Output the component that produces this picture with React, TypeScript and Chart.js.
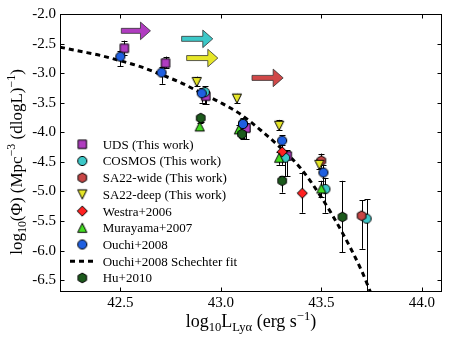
import React, { useEffect, useRef } from 'react';
import { Chart, registerables } from 'chart.js';

Chart.register(...registerables);

// ---------- axes ----------
const xRange = [42.2, 44.1];
const yRange = [-6.7, -2.0];
const xTickValues = [42.5, 43.0, 43.5, 44.0];
const yTickValues = [-6.5, -6.0, -5.5, -5.0, -4.5, -4.0, -3.5, -3.0, -2.5, -2.0];

// ---------- data ----------
const udsX = [42.52, 42.725, 42.925, 43.125, 43.33];
const udsY = [-2.58, -2.83, -3.39, -3.93, -4.40];
const udsLo = [-2.69, -2.92, -3.53, -4.12, -4.74];
const udsHi = [-2.45, -2.72, -3.30, -3.85, -4.30];

const cosmosX = [42.92, 43.11, 43.32, 43.52, 43.725];
const cosmosY = [-3.32, -3.85, -4.43, -4.96, -5.46];
const cosmosLo = [-3.53, -4.12, -4.74, -5.36, -7.5];
const cosmosHi = [-3.22, -3.76, -4.30, -4.78, -5.13];

const sa22wideX = [43.50, 43.70];
const sa22wideY = [-4.48, -5.41];
const sa22wideLo = [-4.60, -5.97];
const sa22wideHi = [-4.36, -5.15];

const sa22deepX = [42.88, 43.08, 43.29, 43.49];
const sa22deepY = [-3.15, -3.43, -3.89, -4.55];
const sa22deepLo = [-3.22, -3.50, -3.96, -4.62];
const sa22deepHi = [-3.06, -3.35, -3.79, -4.45];

const westraX = [43.305, 43.405];
const westraY = [-4.33, -5.03];
const westraLo = [-4.55, -5.36];
const westraHi = [-4.22, -4.68];

const murayamaX = [42.895, 43.09, 43.29, 43.50];
const murayamaY = [-3.90, -3.95, -4.43, -4.95];
const murayamaLo = [-3.96, -4.02, -4.55, -5.10];
const murayamaHi = [-3.84, -3.88, -4.33, -4.82];

const ouchiX = [42.50, 42.705, 42.905, 43.11, 43.305, 43.51];
const ouchiY = [-2.72, -2.99, -3.34, -3.86, -4.14, -4.68];
const ouchiLo = [-2.88, -3.18, -3.50, -4.00, -4.30, -5.00];
const ouchiHi = [-2.62, -2.90, -3.25, -3.78, -4.05, -4.55];

const huX = [42.90, 43.105, 43.305, 43.605];
const huY = [-3.76, -4.03, -4.82, -5.43];
const huLo = [-3.82, -4.10, -5.02, -6.03];
const huHi = [-3.70, -3.96, -4.74, -4.82];

const fitX = [42.2, 42.3, 42.4, 42.5, 42.6, 42.7, 42.8, 42.9, 43.0, 43.1, 43.2, 43.3, 43.4, 43.5, 43.6, 43.7, 43.75];
const fitY = [-2.56, -2.63, -2.70, -2.79, -2.89, -3.02, -3.16, -3.33, -3.50, -3.70, -3.97, -4.27, -4.62, -5.10, -5.67, -6.34, -6.75];

// lower-limit arrows
const arrowStartX = [42.505, 42.805, 42.83, 43.155];
const arrowEndX = [42.65, 42.96, 42.985, 43.31];
const arrowY = [-2.285, -2.42, -2.745, -3.08];
const arrowColors = ['#b03cc0', '#3cc8c8', '#e6e628', '#d04848'];

const FONT = '"Liberation Serif", "DejaVu Serif", serif';

type Shape = 'square' | 'circle' | 'hex' | 'triUp' | 'triDown' | 'diamond';

function makeMarker(shape: Shape, fill: string): HTMLCanvasElement {
  const s = 16;
  const c = document.createElement('canvas');
  c.width = s;
  c.height = s;
  const g = c.getContext('2d')!;
  const m = s / 2;
  g.beginPath();
  if (shape === 'square') {
    g.rect(m - 4.2, m - 4.2, 8.4, 8.4);
  } else if (shape === 'circle') {
    g.arc(m, m, 4.6, 0, Math.PI * 2);
  } else if (shape === 'hex') {
    const r = 4.9;
    for (let k = 0; k < 6; k++) {
      const a = -Math.PI / 2 + (k * Math.PI) / 3;
      const px = m + r * Math.cos(a);
      const py = m + r * Math.sin(a);
      if (k === 0) g.moveTo(px, py);
      else g.lineTo(px, py);
    }
  } else if (shape === 'triUp') {
    const h = 4.6;
    g.moveTo(m, m - h);
    g.lineTo(m + h, m + h);
    g.lineTo(m - h, m + h);
  } else if (shape === 'triDown') {
    const h = 4.6;
    g.moveTo(m, m + h);
    g.lineTo(m + h, m - h);
    g.lineTo(m - h, m - h);
  } else if (shape === 'diamond') {
    const r = 5.1;
    g.moveTo(m, m - r);
    g.lineTo(m + r, m);
    g.lineTo(m, m + r);
    g.lineTo(m - r, m);
  }
  g.closePath();
  g.fillStyle = fill;
  g.fill();
  g.lineWidth = 1;
  g.strokeStyle = '#000';
  g.stroke();
  return c;
}

const pts = (xs: number[], ys: number[]) => xs.map((x, i) => ({ x, y: ys[i] }));

type Seg = { t: string; k: 'n' | 'sub' | 'sup' };

function drawRich(ctx: CanvasRenderingContext2D, segs: Seg[], cx: number, y: number, size: number) {
  const fontFor = (k: string) => `${k === 'n' ? size : size * 0.7}px ${FONT}`;
  let w = 0;
  segs.forEach((s) => {
    ctx.font = fontFor(s.k);
    w += ctx.measureText(s.t).width;
  });
  let x = cx - w / 2;
  ctx.textAlign = 'left';
  ctx.textBaseline = 'alphabetic';
  segs.forEach((s) => {
    ctx.font = fontFor(s.k);
    const dy = s.k === 'sub' ? size * 0.22 : s.k === 'sup' ? -size * 0.4 : 0;
    ctx.fillText(s.t, x, y + dy);
    x += ctx.measureText(s.t).width;
  });
}

const xTitle: Seg[] = [
  { t: 'log', k: 'n' },
  { t: '10', k: 'sub' },
  { t: 'L', k: 'n' },
  { t: 'Lyα', k: 'sub' },
  { t: ' (erg s', k: 'n' },
  { t: '−1', k: 'sup' },
  { t: ')', k: 'n' },
];
const yTitle: Seg[] = [
  { t: 'log', k: 'n' },
  { t: '10', k: 'sub' },
  { t: '(Φ) (Mpc', k: 'n' },
  { t: '−3', k: 'sup' },
  { t: ' (dlogL)', k: 'n' },
  { t: '−1', k: 'sup' },
  { t: ')', k: 'n' },
];

export default function App() {
  const ref = useRef<HTMLCanvasElement | null>(null);

  useEffect(() => {
    if (!ref.current) return;

    const mk = {
      uds: makeMarker('square', '#b03cc0'),
      cosmos: makeMarker('circle', '#3cc8c8'),
      sa22wide: makeMarker('hex', '#c84646'),
      sa22deep: makeMarker('triDown', '#e6e628'),
      westra: makeMarker('diamond', '#ff2020'),
      murayama: makeMarker('triUp', '#44dd22'),
      ouchi: makeMarker('circle', '#1f5fe0'),
      hu: makeMarker('hex', '#1c5a1c'),
    };

    const series = [
      { label: 'UDS (This work)', x: udsX, y: udsY, lo: udsLo, hi: udsHi, m: mk.uds },
      { label: 'COSMOS (This work)', x: cosmosX, y: cosmosY, lo: cosmosLo, hi: cosmosHi, m: mk.cosmos },
      { label: 'SA22-wide (This work)', x: sa22wideX, y: sa22wideY, lo: sa22wideLo, hi: sa22wideHi, m: mk.sa22wide },
      { label: 'SA22-deep (This work)', x: sa22deepX, y: sa22deepY, lo: sa22deepLo, hi: sa22deepHi, m: mk.sa22deep },
      { label: 'Westra+2006', x: westraX, y: westraY, lo: westraLo, hi: westraHi, m: mk.westra },
      { label: 'Murayama+2007', x: murayamaX, y: murayamaY, lo: murayamaLo, hi: murayamaHi, m: mk.murayama },
      { label: 'Ouchi+2008', x: ouchiX, y: ouchiY, lo: ouchiLo, hi: ouchiHi, m: mk.ouchi },
      { label: 'Ouchi+2008 Schechter fit', x: fitX, y: fitY, lo: null, hi: null, m: null },
      { label: 'Hu+2010', x: huX, y: huY, lo: huLo, hi: huHi, m: mk.hu },
    ];

    const N = series.length;
    const datasets: any[] = series.map((s, i) => {
      if (!s.m) {
        return {
          label: s.label,
          data: pts(s.x, s.y),
          showLine: true,
          borderColor: '#000',
          borderWidth: 3,
          borderDash: [5, 4],
          pointRadius: 0,
          fill: false,
          cubicInterpolationMode: 'monotone',
          order: 100,
          legendKind: 'dash',
        };
      }
      return {
        label: s.label,
        data: pts(s.x, s.y),
        showLine: false,
        pointStyle: s.m,
        pointRadius: 5,
        pointHoverRadius: 5,
        errLo: s.lo,
        errHi: s.hi,
        order: N - i,
        legendMarker: s.m,
        clip: false,
      };
    });

    const errorBars = {
      id: 'errorBars',
      beforeDatasetsDraw(chart: any) {
        const { ctx, chartArea, scales } = chart;
        const xs = scales.x;
        const ys = scales.y;
        ctx.save();
        ctx.beginPath();
        ctx.rect(chartArea.left, chartArea.top, chartArea.right - chartArea.left, chartArea.bottom - chartArea.top);
        ctx.clip();
        ctx.strokeStyle = '#000';
        ctx.lineWidth = 1;
        chart.data.datasets.forEach((ds: any) => {
          if (!ds.errLo) return;
          ds.data.forEach((p: any, i: number) => {
            const px = Math.round(xs.getPixelForValue(p.x)) + 0.5;
            const pl = ys.getPixelForValue(ds.errLo[i]);
            const ph = ys.getPixelForValue(ds.errHi[i]);
            ctx.beginPath();
            ctx.moveTo(px, pl);
            ctx.lineTo(px, ph);
            ctx.moveTo(px - 3, Math.round(pl) + 0.5);
            ctx.lineTo(px + 3, Math.round(pl) + 0.5);
            ctx.moveTo(px - 3, Math.round(ph) + 0.5);
            ctx.lineTo(px + 3, Math.round(ph) + 0.5);
            ctx.stroke();
          });
        });
        ctx.restore();
      },
    };

    const decorations = {
      id: 'decorations',
      afterDatasetsDraw(chart: any) {
        const { ctx, scales } = chart;
        const xs = scales.x;
        const ys = scales.y;
        // arrows
        ctx.save();
        arrowStartX.forEach((x0, i) => {
          const a = xs.getPixelForValue(x0);
          const b = xs.getPixelForValue(arrowEndX[i]);
          const y = ys.getPixelForValue(arrowY[i]);
          const sh = 2.5;
          const hw = 8.8;
          const hl = 10;
          ctx.beginPath();
          ctx.moveTo(a, y - sh);
          ctx.lineTo(b - hl, y - sh);
          ctx.lineTo(b - hl, y - hw);
          ctx.lineTo(b, y);
          ctx.lineTo(b - hl, y + hw);
          ctx.lineTo(b - hl, y + sh);
          ctx.lineTo(a, y + sh);
          ctx.closePath();
          ctx.fillStyle = arrowColors[i];
          ctx.fill();
          ctx.strokeStyle = '#333';
          ctx.lineWidth = 0.8;
          ctx.stroke();
        });
        ctx.restore();
      },
      afterDraw(chart: any) {
        const { ctx, chartArea, scales } = chart;
        const xs = scales.x;
        const ys = scales.y;
        const L = Math.round(chartArea.left) + 0.5;
        const R = Math.round(chartArea.right) - 0.5;
        const T = Math.round(chartArea.top) + 0.5;
        const B = Math.round(chartArea.bottom) - 0.5;
        ctx.save();
        ctx.strokeStyle = '#000';
        ctx.lineWidth = 1;
        ctx.strokeRect(L, T, R - L, B - T);
        const tl = 4;
        ctx.beginPath();
        xTickValues.forEach((v) => {
          const px = Math.round(xs.getPixelForValue(v)) + 0.5;
          ctx.moveTo(px, B);
          ctx.lineTo(px, B - tl);
          ctx.moveTo(px, T);
          ctx.lineTo(px, T + tl);
        });
        yTickValues.forEach((v) => {
          const py = Math.round(ys.getPixelForValue(v)) + 0.5;
          ctx.moveTo(L, py);
          ctx.lineTo(L + tl, py);
          ctx.moveTo(R, py);
          ctx.lineTo(R - tl, py);
        });
        ctx.stroke();

        // legend
        const lx = 82.3;
        const tx = 102.7;
        const ly0 = 144.3;
        const dy = 16.7;
        ctx.font = `13px ${FONT}`;
        ctx.fillStyle = '#000';
        ctx.textAlign = 'left';
        ctx.textBaseline = 'middle';
        chart.data.datasets.forEach((ds: any, i: number) => {
          const yy = ly0 + i * dy;
          if (ds.legendKind === 'dash') {
            ctx.save();
            ctx.strokeStyle = '#000';
            ctx.lineWidth = 3;
            ctx.setLineDash([5, 4]);
            ctx.beginPath();
            ctx.moveTo(70, yy);
            ctx.lineTo(95, yy);
            ctx.stroke();
            ctx.restore();
          } else if (ds.legendMarker) {
            const m = ds.legendMarker as HTMLCanvasElement;
            ctx.drawImage(m, lx - m.width / 2, yy - m.height / 2);
          }
          ctx.fillText(ds.label, tx, yy + 1);
        });

        // axis titles
        ctx.fillStyle = '#000';
        drawRich(ctx, xTitle, 251, 327, 18);
        ctx.save();
        ctx.translate(22, 162);
        ctx.rotate(-Math.PI / 2);
        drawRich(ctx, yTitle, 0, 0, 17);
        ctx.restore();
        ctx.restore();
      },
    };

    const tickFont = { family: FONT, size: 15 };

    const chart = new Chart(ref.current, {
      type: 'scatter',
      data: { datasets },
      options: {
        animation: false,
        responsive: false,
        devicePixelRatio: 1,
        layout: { padding: { top: 14, right: 10, left: 0, bottom: 0 } },
        plugins: {
          legend: { display: false },
          tooltip: { enabled: false },
        },
        scales: {
          x: {
            type: 'linear',
            min: xRange[0],
            max: xRange[1],
            grid: { display: false, drawTicks: false },
            border: { display: false },
            ticks: {
              font: tickFont,
              color: '#000',
              padding: 2,
              maxRotation: 0,
              autoSkip: false,
              callback: (v: any) => Number(v).toFixed(1),
            },
            afterBuildTicks: (s: any) => {
              s.ticks = xTickValues.map((v) => ({ value: v }));
            },
            afterFit: (s: any) => {
              s.height = 47;
            },
          },
          y: {
            type: 'linear',
            min: yRange[0],
            max: yRange[1],
            grid: { display: false, drawTicks: false },
            border: { display: false },
            ticks: {
              font: tickFont,
              color: '#000',
              padding: 4,
              autoSkip: false,
              callback: (v: any) => Number(v).toFixed(1),
            },
            afterBuildTicks: (s: any) => {
              s.ticks = yTickValues.map((v) => ({ value: v }));
            },
            afterFit: (s: any) => {
              s.width = 60;
            },
          },
        },
      } as any,
      plugins: [errorBars, decorations],
    });

    return () => chart.destroy();
  }, []);

  return (
    <div style={{ position: 'fixed', left: 0, top: 0, width: 452, height: 339, background: '#fff' }}>
      <canvas ref={ref} width={452} height={339} style={{ display: 'block', width: 452, height: 339 }} />
    </div>
  );
}
